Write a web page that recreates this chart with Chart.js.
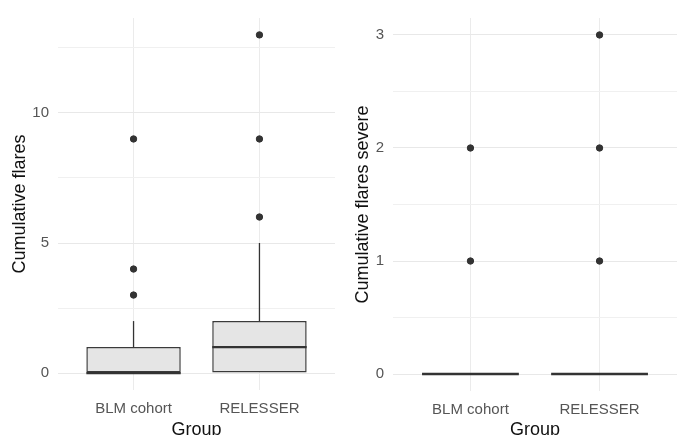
<!DOCTYPE html>
<html>
<head>
<meta charset="utf-8">
<script src="https://cdn.jsdelivr.net/npm/chart.js@4.4.1/dist/chart.umd.min.js"></script>
<style>
  html, body { margin: 0; padding: 0; background: #fff; overflow: hidden; width: 678px; height: 435px; }
  #left { position: absolute; left: 0; top: 0; }
  #right { position: absolute; left: 340px; top: 0; }
</style>
</head>
<body>
<canvas id="left" width="340" height="445"></canvas>
<canvas id="right" width="342" height="445"></canvas>
<script>
const groups = ["BLM cohort", "RELESSER"];

// Cumulative flares: whiskers, quartiles, median, outliers
const flaresLow = [0, 0];
const flaresQ1 = [0, 0];
const flaresMedian = [0, 1];
const flaresQ3 = [1, 2];
const flaresHigh = [2, 5];
const flaresOutliers = [[3, 4, 9], [6, 9, 13]];
const flaresTicks = [0, 2.5, 5, 7.5, 10, 12.5];
const flaresLabels = [0, 5, 10];

// Cumulative severe flares
const severeLow = [0, 0];
const severeQ1 = [0, 0];
const severeMedian = [0, 0];
const severeQ3 = [0, 0];
const severeHigh = [0, 0];
const severeOutliers = [[1, 2], [1, 2, 3]];
const severeTicks = [0, 0.5, 1, 1.5, 2, 2.5, 3];
const severeLabels = [0, 1, 2, 3];

const BOX_WIDTH = 0.75;
const INK = "#333333";
const FONT = "'Liberation Sans', Arial, sans-serif";

function segment(x0, y0, x1, y1, width) {
    return {
        type: "line",
        data: [{ x: x0, y: y0 }, { x: x1, y: y1 }],
        borderColor: INK,
        borderWidth: width,
        pointRadius: 0,
        fill: false,
        order: 1
    };
}

function boxChart(id, s) {
    const datasets = [];

    // outlier points
    const pts = [];
    s.outliers.forEach((vals, i) => vals.forEach(v => pts.push({ x: i + 1, y: v })));
    datasets.push({
        type: "scatter",
        data: pts,
        backgroundColor: INK,
        borderColor: INK,
        pointRadius: 3.2,
        order: 0
    });

    // medians and whiskers
    groups.forEach((g, i) => {
        const x = i + 1;
        datasets.push(segment(x - BOX_WIDTH / 2, s.median[i], x + BOX_WIDTH / 2, s.median[i], 2.4));
        if (s.high[i] > s.q3[i]) datasets.push(segment(x, s.q3[i], x, s.high[i], 1.3));
        if (s.low[i] < s.q1[i]) datasets.push(segment(x, s.low[i], x, s.q1[i], 1.3));
    });

    // boxes (Q1..Q3)
    datasets.push({
        type: "bar",
        data: groups.map((g, i) => ({ x: i + 1, y: [s.q1[i], s.q3[i]] })),
        backgroundColor: "#e5e5e5",
        borderColor: "#3a3a3a",
        borderWidth: 1.5,
        borderSkipped: false,
        categoryPercentage: BOX_WIDTH,
        barPercentage: 1,
        order: 2
    });

    return new Chart(document.getElementById(id), {
        type: "bar",
        data: { datasets },
        options: {
            responsive: false,
            animation: false,
            layout: { padding: { top: s.top, right: s.right, left: 0, bottom: 0 } },
            plugins: { legend: { display: false }, tooltip: { enabled: false } },
            scales: {
                x: {
                    type: "linear",
                    min: 0.4,
                    max: 2.6,
                    offset: false,
                    afterBuildTicks: scale => { scale.ticks = groups.map((g, i) => ({ value: i + 1 })); },
                    afterFit: scale => { scale.height = s.xHeight; },
                    grid: { color: "#ebebeb", lineWidth: 1, drawTicks: false, offset: false },
                    border: { display: false },
                    ticks: {
                        padding: 10,
                        color: "#555555",
                        font: { family: FONT, size: 15 },
                        callback: v => groups[v - 1]
                    },
                    title: {
                        display: true,
                        text: "Group",
                        color: "#111111",
                        font: { family: FONT, size: 18 },
                        padding: { top: 0, bottom: 4 }
                    }
                },
                y: {
                    type: "linear",
                    min: s.min,
                    max: s.max,
                    afterBuildTicks: scale => { scale.ticks = s.ticks.map(v => ({ value: v })); },
                    afterFit: scale => { scale.width = s.yWidth; },
                    grid: {
                        drawTicks: false,
                        color: ctx => s.labels.includes(ctx.tick.value) ? "#e8e8e8" : "#f0f0f0",
                        lineWidth: 1
                    },
                    border: { display: false },
                    ticks: {
                        padding: 9,
                        color: "#555555",
                        font: { family: FONT, size: 15 },
                        callback: v => s.labels.includes(v) ? String(v) : ""
                    },
                    title: {
                        display: true,
                        text: s.title,
                        color: "#111111",
                        font: { family: FONT, size: 18 },
                        padding: { top: s.titlePad, bottom: 0 }
                    }
                }
            }
        }
    });
}

boxChart("left", {
    low: flaresLow, q1: flaresQ1, median: flaresMedian, q3: flaresQ3, high: flaresHigh,
    outliers: flaresOutliers, ticks: flaresTicks, labels: flaresLabels,
    min: -0.65, max: 13.65, title: "Cumulative flares",
    top: 15, right: 5, xHeight: 55, yWidth: 58, titlePad: 9
});

boxChart("right", {
    low: severeLow, q1: severeQ1, median: severeMedian, q3: severeQ3, high: severeHigh,
    outliers: severeOutliers, ticks: severeTicks, labels: severeLabels,
    min: -0.15, max: 3.15, title: "Cumulative flares severe",
    top: 16, right: 2, xHeight: 54, yWidth: 53, titlePad: 12
});
</script>
</body>
</html>
